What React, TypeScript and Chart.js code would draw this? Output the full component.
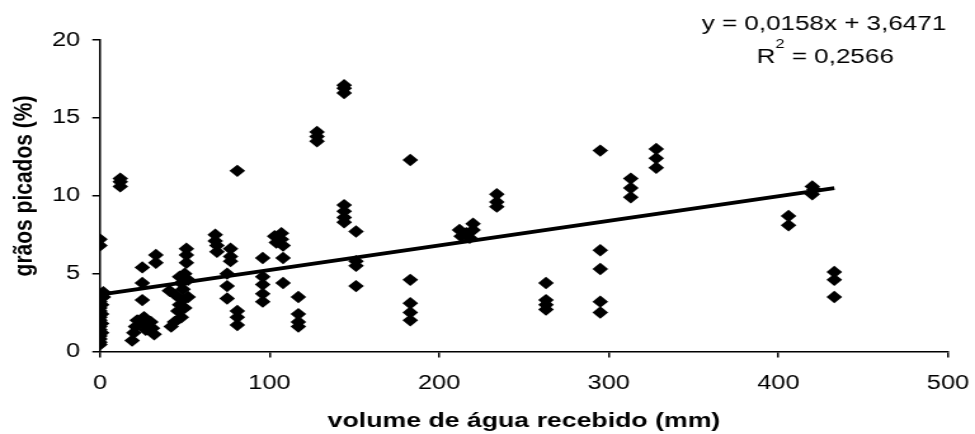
import React, { useEffect, useRef } from "react";
import { Chart, registerables } from "chart.js";

Chart.register(...registerables);

// Water received (mm) and percentage of damaged grains, one entry per sample
const volumeMm = [
  0, 0, 0, 0, 0, 0, 1, 0, 0, 1, 0, 0, 1, 0, 0, 1, 0, 2, 2,
  12, 12, 12,
  19, 20, 21, 22, 25, 25, 25, 26, 26, 27, 30, 31, 32, 33, 33,
  41, 42, 44, 45, 46, 47, 47, 48, 48, 49, 49, 50, 50, 51, 51, 51, 52, 52,
  68, 68, 69, 69,
  75, 75, 75, 77, 77, 77, 81, 81, 81, 81,
  96, 96, 96, 96, 96,
  103, 104, 107, 107, 108, 108, 108,
  117, 117, 117, 117,
  128, 128, 128,
  144, 144, 144, 144, 144, 144, 144,
  151, 151, 151, 151,
  183, 183, 183, 183, 183,
  212, 213, 216, 218, 220, 220,
  234, 234, 234,
  263, 263, 263, 263,
  295, 295, 295, 295, 295,
  313, 313, 313,
  328, 328, 328,
  406, 406,
  420, 421, 420,
  433, 433, 433,
];

const graosPicados = [
  7.2, 6.8, 0.45, 0.6, 0.8, 1.0, 1.2, 1.4, 1.6, 1.8, 2.0, 2.2, 2.4, 2.6, 2.8, 3.0, 3.2, 3.5, 3.8,
  11.1, 10.9, 10.6,
  0.7, 1.2, 1.6, 2.0, 5.4, 4.4, 3.3, 2.2, 1.7, 1.4, 1.9, 1.5, 1.1, 6.2, 5.7,
  3.9, 1.6, 1.9, 3.6, 2.6, 4.8, 3.0, 4.4, 2.2, 4.0, 3.3, 5.0, 2.8, 6.6, 6.2, 5.7, 4.6, 3.5,
  7.5, 7.1, 6.8, 6.4,
  5.0, 4.2, 3.4, 6.6, 6.1, 5.8, 11.6, 2.6, 2.2, 1.7,
  6.0, 4.8, 4.3, 3.7, 3.2,
  7.4, 7.0, 7.6, 7.2, 6.8, 6.0, 4.4,
  3.5, 2.4, 1.9, 1.6,
  14.1, 13.8, 13.5,
  17.1, 16.9, 16.6, 9.4, 9.0, 8.6, 8.3,
  7.7, 5.8, 5.5, 4.2,
  12.3, 4.6, 3.1, 2.5, 2.0,
  7.8, 7.4, 7.6, 7.3, 8.2, 7.8,
  10.1, 9.6, 9.3,
  4.4, 3.3, 3.0, 2.7,
  12.9, 6.5, 5.3, 3.2, 2.5,
  11.1, 10.5, 9.9,
  13.0, 12.4, 11.8,
  8.7, 8.1,
  10.6, 10.4, 10.1,
  5.1, 4.6, 3.5,
];

// Linear trend reported for the samples
const TREND_SLOPE = 0.0158;
const TREND_INTERCEPT = 3.6471;
const R_SQUARED = 0.2566;

// Axis ranges
const X_MIN = 0;
const X_MAX = 500;
const X_STEP = 100;
const Y_MIN = 0;
const Y_MAX = 20;
const Y_STEP = 5;

const X_TITLE = "volume de água recebido (mm)";
const Y_TITLE = "grãos picados (%)";

const FONT = "'Liberation Sans', Arial, sans-serif";

const fmt = (v: number, d: number) => v.toFixed(d).replace(".", ",");

// Canvas is drawn at this internal width and shown wider
const INNER_W = 768;
const INNER_H = 434;

const annotationPlugin = {
  id: "trendAnnotation",
  afterDraw(chart: any) {
    const ctx = chart.ctx as CanvasRenderingContext2D;
    ctx.save();
    ctx.fillStyle = "#000";

    // Equation of the trend line
    ctx.font = `20.5px ${FONT}`;
    ctx.textAlign = "center";
    ctx.textBaseline = "alphabetic";
    const eq = `y = ${fmt(TREND_SLOPE, 4)}x + ${fmt(TREND_INTERCEPT, 4)}`;
    ctx.fillText(eq, 649, 30);

    // R² line with a superscript 2
    const big = `20.5px ${FONT}`;
    const small = `13px ${FONT}`;
    const rest = ` = ${fmt(R_SQUARED, 4)}`;
    ctx.font = big;
    const wR = ctx.measureText("R").width;
    const wRest = ctx.measureText(rest).width;
    ctx.font = small;
    const w2 = ctx.measureText("2").width;
    let x = 650 - (wR + w2 + wRest) / 2;
    ctx.textAlign = "left";
    ctx.font = big;
    ctx.fillText("R", x, 63);
    x += wR;
    ctx.font = small;
    ctx.fillText("2", x, 48);
    x += w2;
    ctx.font = big;
    ctx.fillText(rest, x, 63);

    // Vertical axis title
    ctx.translate(19, 186);
    ctx.rotate(-Math.PI / 2);
    ctx.font = `bold 21px ${FONT}`;
    ctx.textAlign = "center";
    ctx.textBaseline = "middle";
    ctx.fillText(Y_TITLE, 0, 0);
    ctx.restore();
  },
};

export default function App() {
  const canvasRef = useRef<HTMLCanvasElement | null>(null);

  useEffect(() => {
    if (!canvasRef.current) return;
    const points = volumeMm.map((v, i) => ({ x: v, y: graosPicados[i] }));
    const xLast = Math.max(...volumeMm);
    const xFirst = Math.min(...volumeMm);
    const trend = [
      { x: xFirst, y: TREND_INTERCEPT + TREND_SLOPE * xFirst },
      { x: xLast, y: TREND_INTERCEPT + TREND_SLOPE * xLast },
    ];

    const chart = new Chart(canvasRef.current, {
      type: "scatter",
      data: {
        datasets: [
          {
            type: "line",
            data: trend,
            borderColor: "#000",
            borderWidth: 3.8,
            pointRadius: 0,
            fill: false,
            order: 0,
          },
          {
            data: points,
            pointStyle: "rectRot",
            pointRadius: 6.2,
            backgroundColor: "#000",
            borderColor: "#000",
            borderWidth: 0,
            order: 1,
          },
        ],
      },
      options: {
        animation: false,
        responsive: false,
        devicePixelRatio: 1,
        layout: { padding: { left: 0, right: 21.3, top: 40, bottom: 0 } },
        plugins: {
          legend: { display: false },
          tooltip: { enabled: false },
        },
        scales: {
          x: {
            type: "linear",
            min: X_MIN,
            max: X_MAX,
            afterFit: (scale: any) => {
              scale.height = 82.5;
              scale.paddingLeft = 0;
              scale.paddingRight = 0;
            },
            ticks: {
              stepSize: X_STEP,
              color: "#000",
              padding: 14,
              font: { family: FONT, size: 20 },
            },
            grid: {
              display: true,
              drawOnChartArea: false,
              drawTicks: true,
              tickLength: 6,
              color: "#000",
              lineWidth: 1.5,
            },
            border: { display: true, color: "#000", width: 1.5 },
            title: {
              display: true,
              text: X_TITLE,
              color: "#000",
              font: { family: FONT, size: 21, weight: "bold" },
              padding: { top: 0, bottom: 0.5 },
            },
          },
          y: {
            type: "linear",
            min: Y_MIN,
            max: Y_MAX,
            afterFit: (scale: any) => {
              scale.width = 78.7;
            },
            ticks: {
              stepSize: Y_STEP,
              color: "#000",
              padding: 9.5,
              font: { family: FONT, size: 20 },
            },
            grid: {
              display: true,
              drawOnChartArea: false,
              drawTicks: true,
              tickLength: 6,
              color: "#000",
              lineWidth: 1.5,
            },
            border: { display: true, color: "#000", width: 1.5 },
          },
        },
      },
      plugins: [annotationPlugin],
    } as any);

    return () => chart.destroy();
  }, []);

  return (
    <div
      style={{
        position: "fixed",
        left: 0,
        top: 0,
        width: 975,
        height: 434,
        background: "#fff",
        overflow: "hidden",
      }}
    >
      <canvas
        ref={canvasRef}
        width={INNER_W}
        height={INNER_H}
        style={{ width: "975px", height: "434px", display: "block" }}
      />
    </div>
  );
}
